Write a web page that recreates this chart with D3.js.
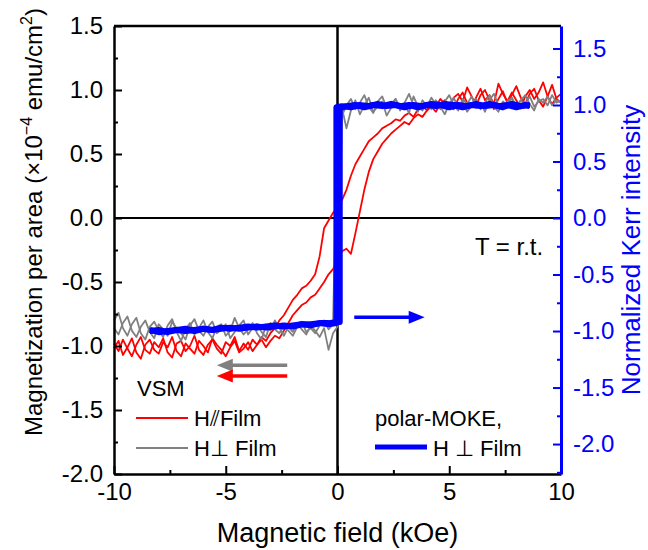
<!DOCTYPE html>
<html>
<head>
<meta charset="utf-8">
<script src="https://cdn.jsdelivr.net/npm/d3@7"></script>
<style>
  body { margin: 0; background: #fff; }
  svg { display: block; font-family: "Liberation Sans", Arial, sans-serif; }
</style>
</head>
<body>
<svg id="chart" width="648" height="550"></svg>
<script>
// VSM sweeps sampled every 0.2 kOe from -10 to 10 kOe (101 points)
const vsmField = d3.range(0, 101).map(i => +(-10 + i * 0.2).toFixed(1));

// H // film, sweep down (left branch), x1e-4 emu/cm2
const redDown = [
  -0.98, -1.04, -0.95, -1.02, -1.08, -0.99, -0.93, -1.03, -1.06, -0.97,
  -1.01, -0.94, -1.05, -1.09, -0.98, -0.96, -1.04, -1.00, -0.92, -1.03,
  -1.07, -0.99, -0.95, -1.02, -1.06, -0.97, -1.00, -0.93, -1.04, -0.98,
  -1.03, -0.95, -0.99, -0.93, -0.96, -0.90, -0.86, -0.80, -0.76, -0.70,
  -0.64, -0.60, -0.55, -0.53, -0.49, -0.44, -0.30, -0.08, -0.02, 0.04,
  0.08, 0.14, 0.22, 0.33, 0.42, 0.48, 0.54, 0.60, 0.63, 0.66,
  0.70, 0.72, 0.74, 0.77, 0.76, 0.80, 0.82, 0.79, 0.85, 0.88,
  0.84, 0.90, 0.87, 0.93, 0.89, 0.86, 0.94, 0.97, 0.91, 1.02,
  0.95, 0.88, 0.96, 1.00, 0.92, 0.85, 0.93, 0.99, 0.90, 0.96,
  1.03, 0.94, 0.89, 0.97, 1.01, 0.92, 0.87, 0.95, 1.04, 0.93,
  0.90
];
// H // film, sweep up (right branch)
const redUp = [
  -1.02, -0.96, -1.07, -1.01, -0.94, -1.05, -1.10, -0.99, -0.95, -1.03,
  -1.06, -0.97, -1.01, -0.93, -1.04, -1.08, -0.98, -1.02, -1.06, -0.96,
  -1.00, -1.05, -0.94, -0.99, -1.03, -1.08, -1.01, -0.96, -1.05, -1.02,
  -0.97, -1.04, -0.99, -0.95, -1.01, -0.96, -0.92, -0.94, -0.88, -0.82,
  -0.76, -0.72, -0.68, -0.66, -0.62, -0.60, -0.55, -0.50, -0.44, -0.40,
  -0.33, -0.26, -0.24, -0.28, -0.12, 0.05, 0.22, 0.36, 0.46, 0.52,
  0.58, 0.62, 0.66, 0.69, 0.72, 0.75, 0.73, 0.78, 0.81, 0.79,
  0.84, 0.87, 0.83, 0.89, 0.92, 0.88, 0.85, 0.93, 0.98, 0.90,
  0.87, 0.94, 1.01, 0.92, 0.96, 0.89, 1.05, 0.97, 0.91, 0.98,
  0.92, 0.86, 0.95, 1.00, 0.93, 0.98, 1.06, 0.95, 0.89, 0.94,
  0.97
];
// H perp film, sweep up
const grayUp = [
  -0.80, -0.74, -0.86, -0.92, -0.83, -0.78, -0.90, -0.95, -0.85, -0.81,
  -0.88, -0.93, -0.84, -0.79, -0.89, -0.96, -0.87, -0.82, -0.91, -0.86,
  -0.80, -0.89, -0.94, -0.85, -0.83, -0.92, -0.88, -0.78, -0.86, -0.91,
  -0.87, -0.82, -0.90, -0.95, -0.84, -0.88, -0.80, -0.86, -0.92, -0.85,
  -0.89, -0.83, -0.87, -0.91, -0.84, -0.88, -0.93, -0.86, -1.03, -0.90,
  -0.85, 0.80, 0.88, 0.93, 0.85, 0.90, 0.96, 0.87, 0.82, 0.91,
  0.95, 0.86, 0.89, 0.93, 0.84, 0.90, 0.97, 0.88, 0.83, 0.92,
  0.87, 0.94, 0.89, 0.85, 0.91, 0.96, 0.88, 0.84, 0.93, 0.89,
  0.95, 0.86, 0.90, 0.83, 0.92, 0.97, 0.88, 0.85, 0.91, 0.94,
  0.87, 0.92, 0.96, 0.89, 0.84, 0.93, 0.90, 0.95, 0.88, 0.92,
  0.90
];
// H perp film, sweep down
const grayDown = [
  -0.86, -0.91, -0.82, -0.77, -0.88, -0.93, -0.85, -0.80, -0.89, -0.94,
  -0.83, -0.87, -0.92, -0.81, -0.86, -0.90, -0.95, -0.84, -0.79, -0.88,
  -0.92, -0.85, -0.81, -0.90, -0.87, -0.83, -0.94, -0.89, -0.84, -0.80,
  -0.91, -0.86, -0.83, -0.89, -0.93, -0.82, -0.87, -0.90, -0.84, -0.88,
  -0.92, -0.85, -0.81, -0.89, -0.86, -0.90, -0.84, -0.80, -0.87, -0.83,
  0.78, 0.86, 0.70, 0.84, 0.92, 0.81, 0.88, 0.94, 0.83, 0.87,
  0.91, 0.80, 0.86, 0.93, 0.85, 0.89, 0.82, 0.95, 0.87, 0.84,
  0.90, 0.85, 0.92, 0.87, 0.81, 0.89, 0.94, 0.86, 0.91, 0.83,
  0.88, 0.93, 0.85, 0.90, 0.96, 0.87, 0.83, 0.91, 0.88, 0.94,
  0.86, 0.92, 0.89, 0.95, 0.87, 0.91, 0.93, 0.88, 0.96, 0.90,
  0.92
];

// polar-MOKE, [field kOe, normalized Kerr intensity]
const mokeUp = [
  [-8.4, -1.00], [-8.0, -0.99], [-7.6, -1.01], [-7.2, -0.99], [-6.8, -0.98],
  [-6.4, -1.00], [-6.0, -0.98], [-5.6, -0.99], [-5.2, -0.97], [-4.8, -0.98],
  [-4.4, -0.97], [-4.0, -0.96], [-3.6, -0.97], [-3.2, -0.96], [-2.8, -0.95],
  [-2.4, -0.96], [-2.0, -0.95], [-1.6, -0.94], [-1.2, -0.94], [-0.8, -0.93],
  [-0.4, -0.93], [0.0, -0.92], [0.1, -0.92], [0.1, 0.97], [0.4, 0.99],
  [0.8, 1.00], [1.2, 0.98], [1.6, 1.00], [2.0, 0.99], [2.4, 1.01],
  [2.8, 0.99], [3.2, 1.00], [3.6, 0.98], [4.0, 1.00], [4.4, 0.99],
  [4.8, 1.01], [5.2, 1.00], [5.6, 0.98], [6.0, 1.00], [6.4, 0.99],
  [6.8, 1.01], [7.2, 0.99], [7.6, 1.00], [8.0, 0.98], [8.4, 1.00], [8.6, 0.99]
];
const mokeDown = [
  [8.6, 1.00], [8.2, 0.99], [7.8, 1.01], [7.4, 0.98], [7.0, 1.00],
  [6.6, 0.99], [6.2, 1.01], [5.8, 0.99], [5.4, 1.00], [5.0, 0.98],
  [4.6, 1.00], [4.2, 1.01], [3.8, 0.99], [3.4, 1.00], [3.0, 0.98],
  [2.6, 1.00], [2.2, 0.99], [1.8, 1.01], [1.4, 0.99], [1.0, 1.00],
  [0.6, 0.98], [0.2, 0.99], [-0.05, 0.98], [-0.05, -0.93], [-0.4, -0.94],
  [-0.8, -0.93], [-1.2, -0.95], [-1.6, -0.94], [-2.0, -0.96], [-2.4, -0.95],
  [-2.8, -0.96], [-3.2, -0.97], [-3.6, -0.96], [-4.0, -0.97], [-4.4, -0.98],
  [-4.8, -0.97], [-5.2, -0.98], [-5.6, -0.99], [-6.0, -0.98], [-6.4, -0.99],
  [-6.8, -1.00], [-7.2, -0.99], [-7.6, -1.00], [-8.0, -1.01], [-8.4, -0.99]
];

// ticks
const xMajor = [-10, -5, 0, 5, 10];
const xMinor = [-7.5, -2.5, 2.5, 7.5];
const yMajor = [-2.0, -1.5, -1.0, -0.5, 0.0, 0.5, 1.0, 1.5];
const yMinor = [-1.75, -1.25, -0.75, -0.25, 0.25, 0.75, 1.25];
const kMajor = [-2.0, -1.5, -1.0, -0.5, 0.0, 0.5, 1.0, 1.5];
const kMinor = [-2.25, -1.75, -1.25, -0.75, -0.25, 0.25, 0.75, 1.25];

const red = '#ff0000', gray = '#808080', blue = '#0000ff';
const fontFam = '"Liberation Sans", Arial, sans-serif';

const svg = d3.select('#chart');
const L = 114, R = 561, T = 26, B = 474;

const x = d3.scaleLinear().domain([-10, 10]).range([L, R]);
const yL = d3.scaleLinear().domain([-2, 1.5]).range([B, T]);
const yR = d3.scaleLinear().domain([-2.265, 1.699]).range([B, T]);

// zero cross lines
svg.append('line')
  .attr('x1', L).attr('x2', R).attr('y1', yL(0)).attr('y2', yL(0))
  .attr('stroke', '#000').attr('stroke-width', 2);
svg.append('line')
  .attr('x1', x(0)).attr('x2', x(0)).attr('y1', T).attr('y2', B)
  .attr('stroke', '#000').attr('stroke-width', 2.5);

// data lines
const vsmLine = d3.line().x((d, i) => x(vsmField[i])).y(d => yL(d));
const mokeLine = d3.line().x(d => x(d[0])).y(d => yR(d[1]));

[[redDown, red], [redUp, red], [grayUp, gray], [grayDown, gray]].forEach(([s, c]) => {
  svg.append('path')
    .attr('d', vsmLine(s))
    .attr('fill', 'none')
    .attr('stroke', c)
    .attr('stroke-width', 1.8)
    .attr('stroke-linejoin', 'round');
});

[mokeUp, mokeDown].forEach(s => {
  svg.append('path')
    .attr('d', mokeLine(s))
    .attr('fill', 'none')
    .attr('stroke', blue)
    .attr('stroke-width', 6)
    .attr('stroke-linejoin', 'round');
});

// axes
function styleAxis(g, color) {
  g.attr('font-family', fontFam).attr('font-size', 24);
  g.selectAll('path, line').attr('stroke', color).attr('stroke-width', 2);
  g.selectAll('text').attr('fill', color);
}
const fmt1 = d => d.toFixed(1);

// top frame
svg.append('line')
  .attr('x1', L).attr('x2', R).attr('y1', T).attr('y2', T)
  .attr('stroke', '#000').attr('stroke-width', 2.5);

svg.append('g').attr('transform', `translate(0,${B})`)
  .call(d3.axisBottom(x).tickValues(xMinor).tickSize(-4).tickFormat(''))
  .call(g => { g.select('.domain').remove(); styleAxis(g, '#000'); });
svg.append('g').attr('transform', `translate(0,${B})`)
  .call(d3.axisBottom(x).tickValues(xMajor).tickSize(-8).tickSizeOuter(0)
    .tickPadding(9).tickFormat(d => String(d)))
  .call(g => { styleAxis(g, '#000'); g.select('.domain').attr('stroke-width', 2.5); });

svg.append('g').attr('transform', `translate(${L},0)`)
  .call(d3.axisLeft(yL).tickValues(yMinor).tickSize(-4).tickFormat(''))
  .call(g => { g.select('.domain').remove(); styleAxis(g, '#000'); });
svg.append('g').attr('transform', `translate(${L},0)`)
  .call(d3.axisLeft(yL).tickValues(yMajor).tickSize(-8).tickSizeOuter(0)
    .tickPadding(11).tickFormat(fmt1))
  .call(g => { styleAxis(g, '#000'); g.select('.domain').attr('stroke-width', 2.5); });

svg.append('g').attr('transform', `translate(${R},0)`)
  .call(d3.axisRight(yR).tickValues(kMinor).tickSize(-4).tickFormat(''))
  .call(g => { g.select('.domain').remove(); styleAxis(g, blue); });
svg.append('g').attr('transform', `translate(${R},0)`)
  .call(d3.axisRight(yR).tickValues(kMajor).tickSize(-8).tickSizeOuter(0)
    .tickPadding(12).tickFormat(fmt1))
  .call(g => { styleAxis(g, blue); g.select('.domain').attr('stroke-width', 3); });

// axis titles
svg.append('text')
  .attr('x', (L + R) / 2).attr('y', 542)
  .attr('text-anchor', 'middle')
  .attr('font-size', 27)
  .text('Magnetic field (kOe)');

const yTitle = svg.append('text')
  .attr('transform', 'translate(42,222) rotate(-90)')
  .attr('text-anchor', 'middle')
  .attr('font-size', 24);
yTitle.append('tspan').text('Magnetization per area (×10');
yTitle.append('tspan').attr('dy', -10).attr('font-size', 16).text('−4');
yTitle.append('tspan').attr('dy', 10).text(' emu/cm');
yTitle.append('tspan').attr('dy', -10).attr('font-size', 16).text('2');
yTitle.append('tspan').attr('dy', 10).text(')');

svg.append('text')
  .attr('transform', `translate(640,${(T + B) / 2}) rotate(-90)`)
  .attr('text-anchor', 'middle')
  .attr('font-size', 26)
  .attr('fill', blue)
  .text('Normalized Kerr intensity');

// sweep direction arrows
function arrow(x1, x2, yPix, color) {
  const dir = Math.sign(x2 - x1);
  svg.append('line')
    .attr('x1', x1).attr('x2', x2 - dir * 12).attr('y1', yPix).attr('y2', yPix)
    .attr('stroke', color).attr('stroke-width', 3.5);
  svg.append('path')
    .attr('d', `M${x2},${yPix} L${x2 - dir * 16},${yPix - 6.5} L${x2 - dir * 16},${yPix + 6.5} Z`)
    .attr('fill', color);
}
arrow(x(-2.25), x(-5.4), yL(-1.15), gray);
arrow(x(-2.25), x(-5.4), yL(-1.235), red);
arrow(x(0.75), x(3.9), yL(-0.775), blue);

svg.append('text')
  .attr('x', x(6.15)).attr('y', yL(-0.29))
  .attr('font-size', 24)
  .text('T = r.t.');

// legends
const leg = svg.append('g').attr('font-size', 22);
leg.append('text').attr('x', 137).attr('y', 396).text('VSM');
leg.append('line').attr('x1', 136).attr('x2', 188).attr('y1', 418).attr('y2', 418)
  .attr('stroke', red).attr('stroke-width', 2);
leg.append('text').attr('x', 194).attr('y', 426).text('H\u2AFDFilm');
leg.append('line').attr('x1', 136).attr('x2', 188).attr('y1', 448).attr('y2', 448)
  .attr('stroke', gray).attr('stroke-width', 2);
leg.append('text').attr('x', 194).attr('y', 456).text('H\u22A5 Film');

leg.append('text').attr('x', 375).attr('y', 426).text('polar-MOKE,');
leg.append('line').attr('x1', 375).attr('x2', 427).attr('y1', 447).attr('y2', 447)
  .attr('stroke', blue).attr('stroke-width', 5);
leg.append('text').attr('x', 433).attr('y', 456).text('H \u22A5 Film');
</script>
</body>
</html>
